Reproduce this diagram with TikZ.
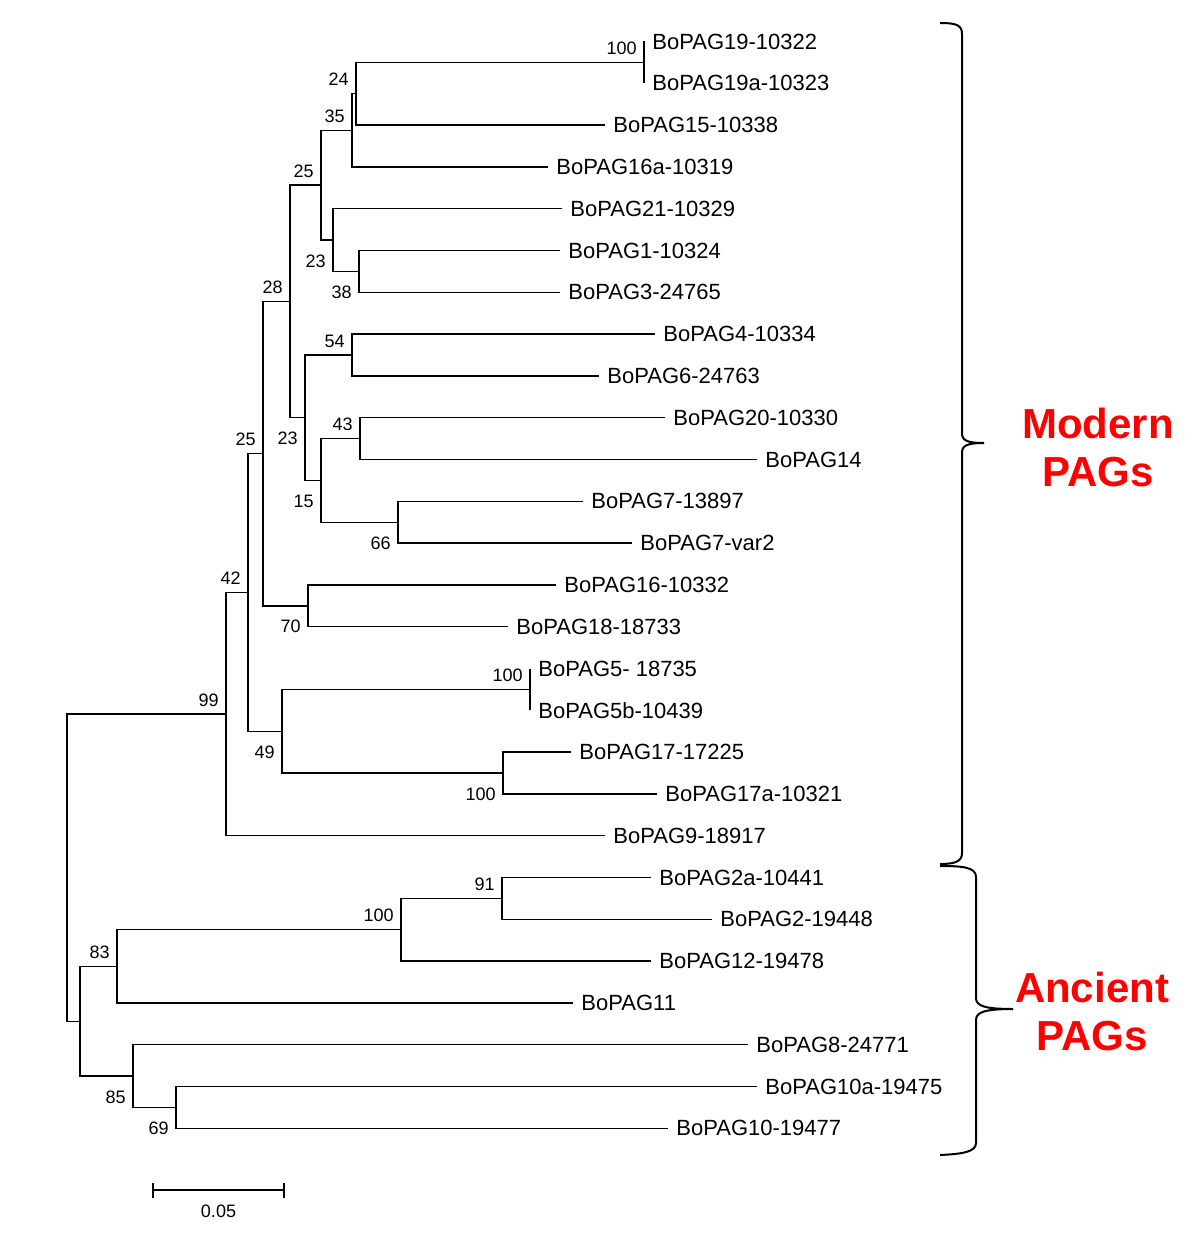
\documentclass[tikz,border=0pt]{standalone}
\usepackage{fontspec}
\setmainfont{Liberation Sans}
\usepackage{xcolor}
\usetikzlibrary{positioning}
\definecolor{pagred}{RGB}{255,0,0}
\tikzstyle{leaf} = [anchor=west, inner xsep=4pt, inner ysep=0pt, font=\fontsize{11}{13}\selectfont]
\tikzstyle{boot} = [inner sep=0pt, font=\fontsize{9}{11}\selectfont]
\tikzstyle{bootup} = [boot, anchor=base east, xshift=-3.5pt, yshift=4pt]
\tikzstyle{bootdown} = [boot, anchor=base east, xshift=-3.5pt, yshift=-13.5pt]
\tikzstyle{branch} = [line width=0.7pt]
\tikzstyle{bracket} = [line width=1pt]
\tikzstyle{group} = [text=pagred, font=\fontsize{21}{24}\selectfont\bfseries, align=center]

\begin{document}
\begin{tikzpicture}[x=0.5pt, y=-0.5pt]
        \useasboundingbox (0,0) rectangle (1200,1251);

        % leaves
        \node (pag19) [leaf] at (644, 41.5) {BoPAG19-10322};
        \node (pag19a) [leaf] at (644, 83.3) {BoPAG19a-10323};
        \node (pag15) [leaf] at (605, 125.1) {BoPAG15-10338};
        \node (pag16a) [leaf] at (548, 166.9) {BoPAG16a-10319};
        \node (pag21) [leaf] at (562, 208.7) {BoPAG21-10329};
        \node (pag1) [leaf] at (560, 250.5) {BoPAG1-10324};
        \node (pag3) [leaf] at (560, 292.3) {BoPAG3-24765};
        \node (pag4) [leaf] at (655, 334.1) {BoPAG4-10334};
        \node (pag6) [leaf] at (599, 375.9) {BoPAG6-24763};
        \node (pag20) [leaf] at (665, 417.7) {BoPAG20-10330};
        \node (pag14) [leaf] at (757, 459.5) {BoPAG14};
        \node (pag7) [leaf] at (583, 501.3) {BoPAG7-13897};
        \node (pag7v) [leaf] at (632, 543.1) {BoPAG7-var2};
        \node (pag16) [leaf] at (556, 584.9) {BoPAG16-10332};
        \node (pag18) [leaf] at (508, 626.7) {BoPAG18-18733};
        \node (pag5) [leaf] at (530, 668.5) {BoPAG5- 18735};
        \node (pag5b) [leaf] at (530, 710.3) {BoPAG5b-10439};
        \node (pag17) [leaf] at (571, 752.1) {BoPAG17-17225};
        \node (pag17a) [leaf] at (657, 793.9) {BoPAG17a-10321};
        \node (pag9) [leaf] at (605, 835.7) {BoPAG9-18917};
        \node (pag2a) [leaf] at (651, 877.5) {BoPAG2a-10441};
        \node (pag2) [leaf] at (712, 919.3) {BoPAG2-19448};
        \node (pag12) [leaf] at (651, 961.1) {BoPAG12-19478};
        \node (pag11) [leaf] at (573, 1002.9) {BoPAG11};
        \node (pag8) [leaf] at (748, 1044.7) {BoPAG8-24771};
        \node (pag10a) [leaf] at (757, 1086.5) {BoPAG10a-19475};
        \node (pag10) [leaf] at (668, 1128.3) {BoPAG10-19477};

        % inner nodes
        \coordinate (n19) at (644, 62.4);
        \coordinate (n24) at (356, 93.75);
        \coordinate (n35) at (352, 130.3);
        \coordinate (n38) at (359, 271.4);
        \coordinate (n23a) at (333, 240.05);
        \coordinate (n25a) at (321, 185.2);
        \coordinate (n54) at (352, 355);
        \coordinate (n43) at (360, 438.6);
        \coordinate (n66) at (398, 522.2);
        \coordinate (n15) at (321, 480.4);
        \coordinate (n23b) at (305, 417.7);
        \coordinate (n28) at (290, 301.45);
        \coordinate (n70) at (308, 605.8);
        \coordinate (n25b) at (263, 453.6);
        \coordinate (n5) at (530, 689.4);
        \coordinate (n17) at (503, 773);
        \coordinate (n49) at (282, 731.2);
        \coordinate (n42) at (248, 592.4);
        \coordinate (n99) at (226, 714);
        \coordinate (n91) at (502, 898.4);
        \coordinate (n100) at (401, 929.75);
        \coordinate (n83) at (117, 966.3);
        \coordinate (n69) at (176, 1107.4);
        \coordinate (n85) at (133, 1076);
        \coordinate (na) at (80, 1021.2);
        \coordinate (root) at (67, 867.6);

        % branches
        \draw [branch] (pag19.west) -- (pag19a.west);
        \draw [branch] (n19) -| (n24) |- (pag15.west);
        \draw [branch] (n24) -| (n35) |- (pag16a.west);
        \draw [branch] (pag1.west) -| (n38) |- (pag3.west);
        \draw [branch] (pag21.west) -| (n23a) |- (n38);
        \draw [branch] (n35) -| (n25a) |- (n23a);
        \draw [branch] (pag4.west) -| (n54) |- (pag6.west);
        \draw [branch] (pag20.west) -| (n43) |- (pag14.west);
        \draw [branch] (pag7.west) -| (n66) |- (pag7v.west);
        \draw [branch] (n43) -| (n15) |- (n66);
        \draw [branch] (n54) -| (n23b) |- (n15);
        \draw [branch] (n25a) -| (n28) |- (n23b);
        \draw [branch] (pag16.west) -| (n70) |- (pag18.west);
        \draw [branch] (n28) -| (n25b) |- (n70);
        \draw [branch] (pag5.west) -- (pag5b.west);
        \draw [branch] (pag17.west) -| (n17) |- (pag17a.west);
        \draw [branch] (n5) -| (n49) |- (n17);
        \draw [branch] (n25b) -| (n42) |- (n49);
        \draw [branch] (n42) -| (n99) |- (pag9.west);
        \draw [branch] (pag2a.west) -| (n91) |- (pag2.west);
        \draw [branch] (n91) -| (n100) |- (pag12.west);
        \draw [branch] (n100) -| (n83) |- (pag11.west);
        \draw [branch] (pag10a.west) -| (n69) |- (pag10.west);
        \draw [branch] (pag8.west) -| (n85) |- (n69);
        \draw [branch] (n83) -| (na) |- (n85);
        \draw [branch] (n99) -| (root) |- (na);

        % bootstrap values
        \node (b19) [bootup] at (n19) {100};
        \node (b24) [bootup] at (n24) {24};
        \node (b35) [bootup] at (n35) {35};
        \node (b25a) [bootup] at (n25a) {25};
        \node (b23a) [bootdown] at (n23a) {23};
        \node (b38) [bootdown] at (n38) {38};
        \node (b28) [bootup] at (n28) {28};
        \node (b54) [bootup] at (n54) {54};
        \node (b25b) [bootup] at (n25b) {25};
        \node (b23b) [bootdown] at (n23b) {23};
        \node (b43) [bootup] at (n43) {43};
        \node (b15) [bootdown] at (n15) {15};
        \node (b66) [bootdown] at (n66) {66};
        \node (b42) [bootup] at (n42) {42};
        \node (b70) [bootdown] at (n70) {70};
        \node (b99) [bootup] at (n99) {99};
        \node (b49) [bootdown] at (n49) {49};
        \node (b5) [bootup] at (n5) {100};
        \node (b17) [bootdown] at (n17) {100};
        \node (b91) [bootup] at (n91) {91};
        \node (b100) [bootup] at (n100) {100};
        \node (b83) [bootup] at (n83) {83};
        \node (b85) [bootdown] at (n85) {85};
        \node (b69) [bootdown] at (n69) {69};

        % scale bar
        \coordinate (sb1) at (153, 1190);
        \coordinate (sb2) at (284, 1190);
        \draw [branch] (sb1) -- (sb2);
        \draw [branch] (sb1) ++(0,-7) -- ++(0,15);
        \draw [branch] (sb2) ++(0,-7) -- ++(0,15);
        \node (sbval) [boot, anchor=base] at (218.5, 1217) {0.05};

        % brackets
        \draw [bracket] (940,23) .. controls (956,23) and (962,25) .. (962,34)
            -- (962,433) .. controls (962,440) and (966,443) .. (984,443)
            .. controls (966,443) and (962,446) .. (962,453)
            -- (962,853) .. controls (962,861) and (956,864) .. (940,864);
        \draw [bracket] (940,866) .. controls (962,866) and (976,867) .. (976,877)
            -- (976,998) .. controls (976,1006) and (985,1009) .. (1013,1009)
            .. controls (985,1009) and (976,1012) .. (976,1020)
            -- (976,1143) .. controls (976,1152) and (962,1154) .. (940,1155);
        \node (modern) [group] at (1098, 447) {Modern\\PAGs};
        \node (ancient) [group] at (1092, 1011) {Ancient\\PAGs};
    \end{tikzpicture}
\end{document}
